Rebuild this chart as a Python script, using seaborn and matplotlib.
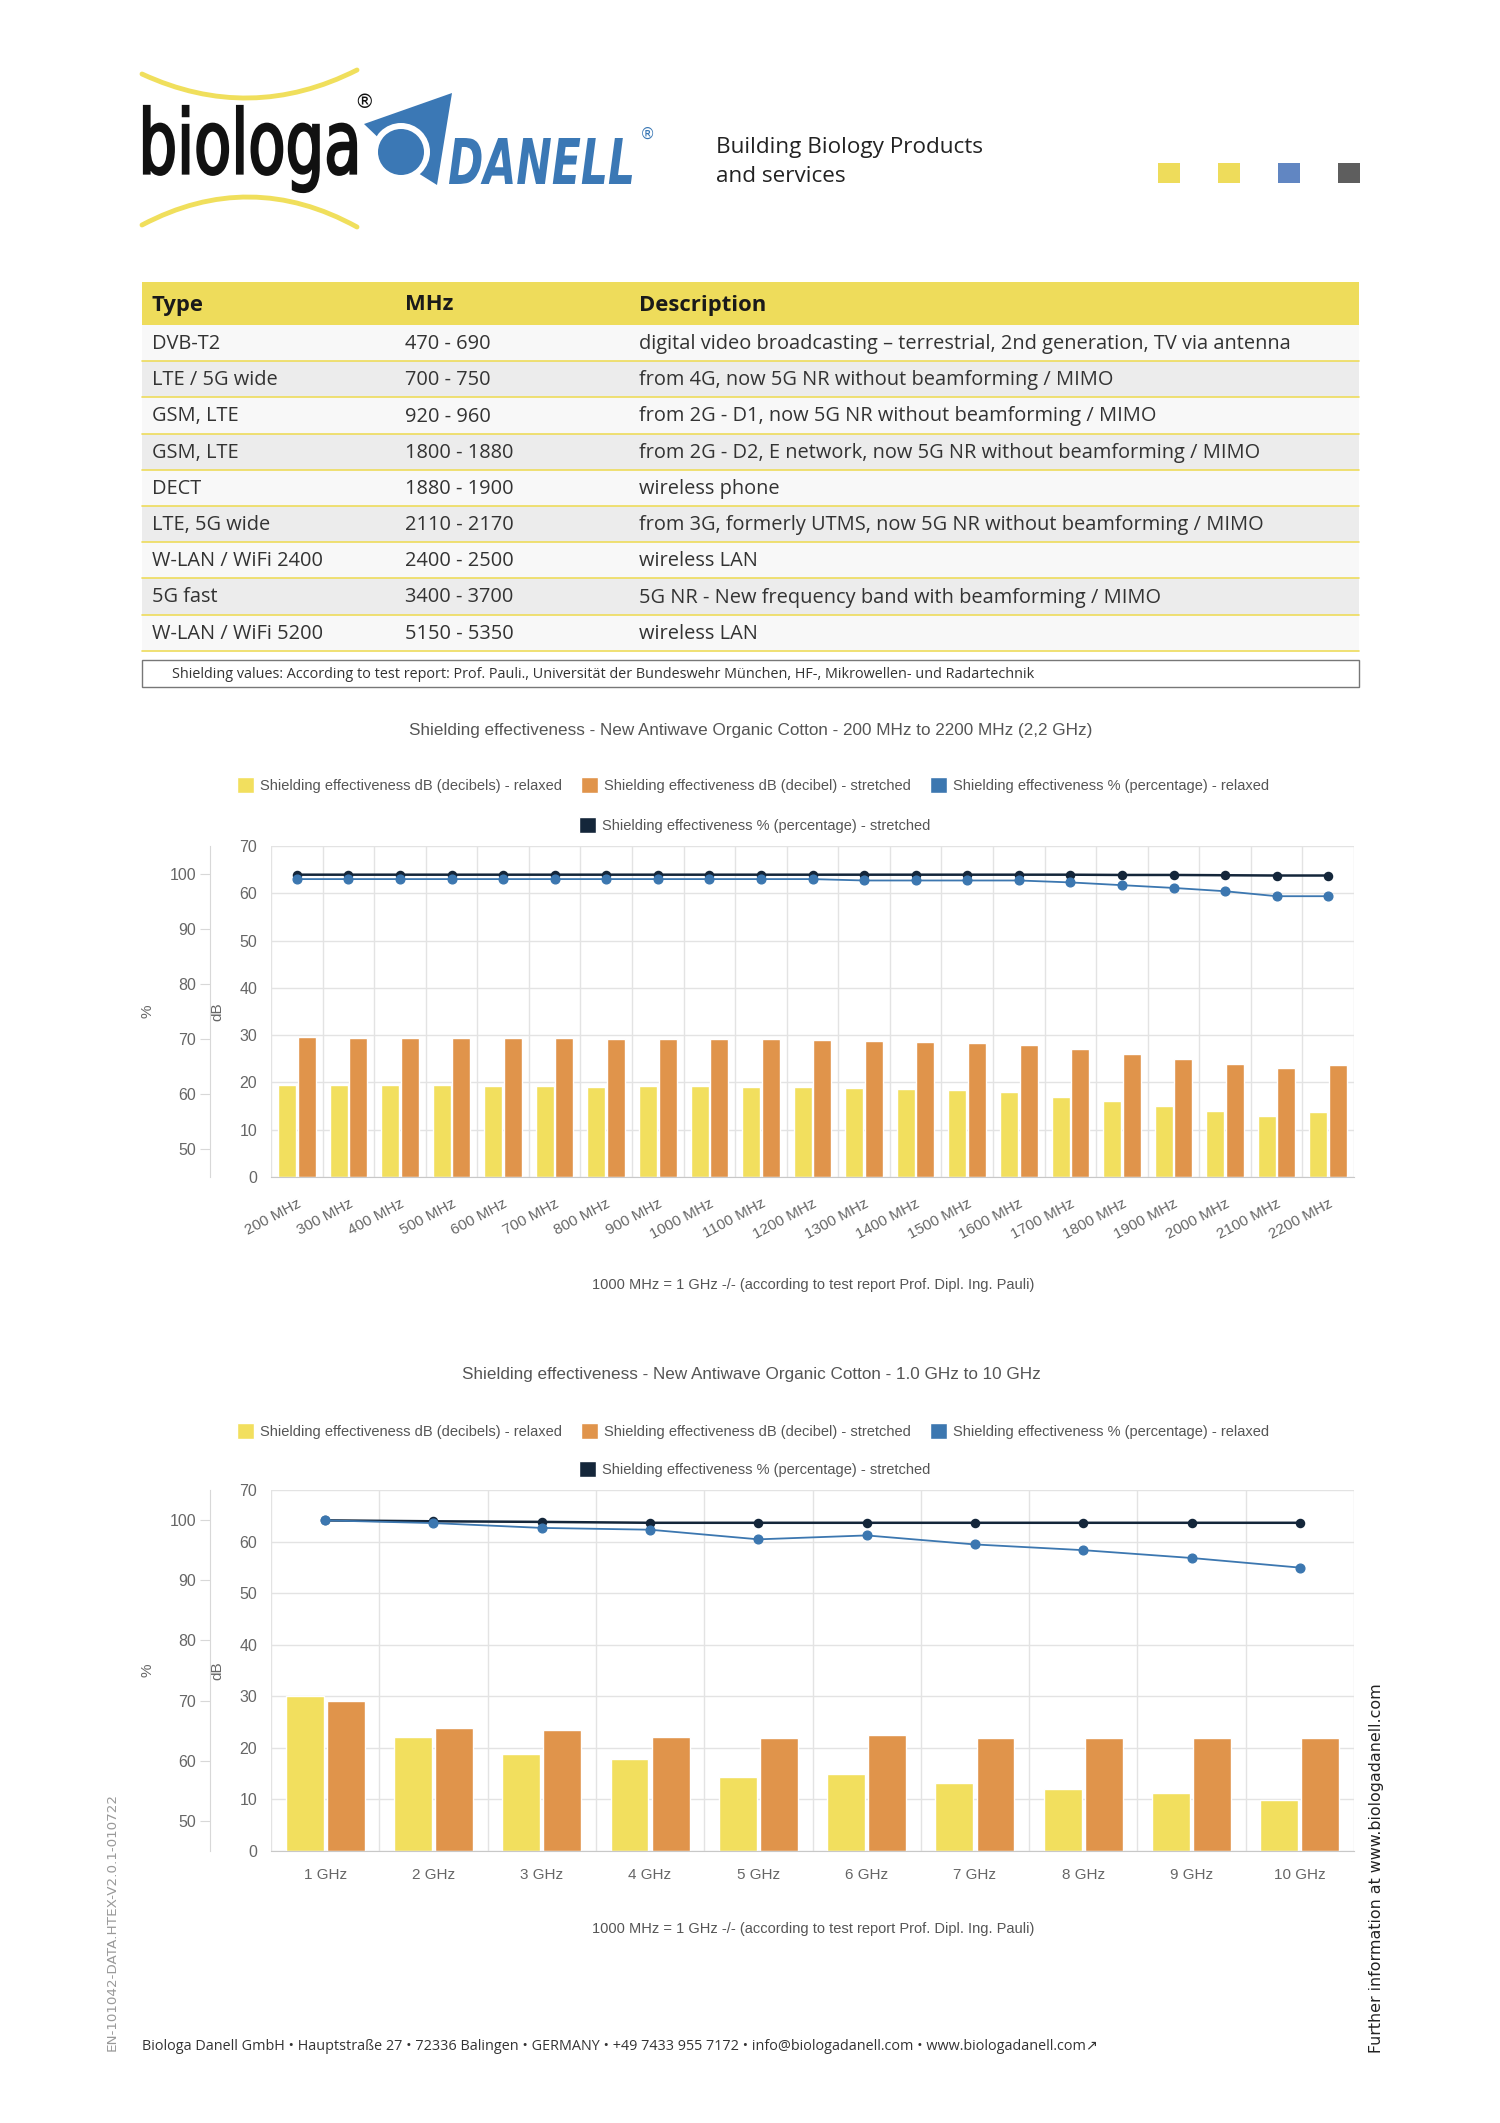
import numpy as np
import pandas as pd
import matplotlib
matplotlib.use('Agg')
import matplotlib.pyplot as plt
import seaborn as sns
from matplotlib.patches import Rectangle, Polygon, Circle, PathPatch, Patch
from matplotlib.path import Path
from matplotlib.textpath import TextPath
from matplotlib.font_manager import FontProperties
from matplotlib.transforms import Affine2D

# ---- table data ----
table_types = ['DVB-T2', 'LTE / 5G wide', 'GSM, LTE', 'GSM, LTE', 'DECT', 'LTE, 5G wide',
               'W-LAN / WiFi 2400', '5G fast', 'W-LAN / WiFi 5200']
table_mhz = ['470 - 690', '700 - 750', '920 - 960', '1800 - 1880', '1880 - 1900',
             '2110 - 2170', '2400 - 2500', '3400 - 3700', '5150 - 5350']
table_desc = ['digital video broadcasting \u2013 terrestrial, 2nd generation, TV via antenna',
              'from 4G, now 5G NR without beamforming / MIMO',
              'from 2G - D1, now 5G NR without beamforming / MIMO',
              'from 2G - D2, E network, now 5G NR without beamforming / MIMO',
              'wireless phone',
              'from 3G, formerly UTMS, now 5G NR without beamforming / MIMO',
              'wireless LAN',
              '5G NR - New frequency band with beamforming / MIMO',
              'wireless LAN']

# ---- chart 1: 200 MHz - 2200 MHz ----
freq_1 = ['200 MHz', '300 MHz', '400 MHz', '500 MHz', '600 MHz', '700 MHz', '800 MHz',
          '900 MHz', '1000 MHz', '1100 MHz', '1200 MHz', '1300 MHz', '1400 MHz', '1500 MHz',
          '1600 MHz', '1700 MHz', '1800 MHz', '1900 MHz', '2000 MHz', '2100 MHz', '2200 MHz']
db_relaxed_1 = [19.5, 19.4, 19.4, 19.4, 19.3, 19.2, 19.1, 19.2, 19.2, 19.1, 19.1,
                18.9, 18.6, 18.4, 18.0, 17.0, 16.0, 15.0, 13.9, 12.9, 13.7]
db_stretched_1 = [29.6, 29.4, 29.4, 29.4, 29.3, 29.3, 29.1, 29.2, 29.1, 29.1, 29.0,
                  28.8, 28.6, 28.4, 27.9, 27.0, 26.0, 25.0, 24.0, 23.1, 23.7]
pct_relaxed_1 = [99.0, 99.0, 99.0, 99.0, 99.0, 99.0, 99.0, 99.0, 99.0, 99.0, 99.0,
                 98.75, 98.75, 98.75, 98.75, 98.4, 97.9, 97.4, 96.8, 95.9, 95.9]
pct_stretched_1 = [99.8, 99.8, 99.8, 99.8, 99.8, 99.8, 99.8, 99.8, 99.8, 99.8, 99.8,
                   99.8, 99.8, 99.8, 99.8, 99.8, 99.75, 99.75, 99.7, 99.65, 99.65]

# ---- chart 2: 1 GHz - 10 GHz ----
freq_2 = ['1 GHz', '2 GHz', '3 GHz', '4 GHz', '5 GHz', '6 GHz', '7 GHz', '8 GHz', '9 GHz', '10 GHz']
db_relaxed_2 = [30.0, 22.2, 18.8, 17.8, 14.4, 15.0, 13.2, 12.1, 11.3, 9.9]
db_stretched_2 = [29.1, 23.9, 23.5, 22.2, 22.0, 22.4, 22.0, 22.0, 22.0, 22.0]
pct_relaxed_2 = [99.95, 99.5, 98.7, 98.4, 96.8, 97.45, 95.95, 95.0, 93.7, 92.1]
pct_stretched_2 = [99.95, 99.8, 99.7, 99.55, 99.55, 99.55, 99.55, 99.55, 99.55, 99.55]

series_labels = ['Shielding effectiveness dB (decibels) - relaxed',
                 'Shielding effectiveness dB (decibel) - stretched',
                 'Shielding effectiveness % (percentage) - relaxed',
                 'Shielding effectiveness % (percentage) - stretched']

YELLOW = '#F2DF5E'
ORANGE = '#E0944B'
BLUE = '#3C77B0'
NAVY = '#14263A'
GRID = '#e3e3e3'
TXT = '#555555'

sns.set_style('white')
plt.rcParams['font.family'] = ['Liberation Sans', 'DejaVu Sans']

W, H = 1500, 2123
fig = plt.figure(figsize=(15, 21.23), dpi=100)
bg = fig.add_axes([0, 0, 1, 1])
bg.set_xlim(0, W)
bg.set_ylim(H, 0)
bg.axis('off')


def fit_text(s, x0, y0, x1, y1, prop, color, lw=0):
    tp = TextPath((0, 0), s, size=1, prop=prop)
    bb = tp.get_extents()
    sx = (x1 - x0) / bb.width
    sy = (y1 - y0) / bb.height
    tr = Affine2D().translate(-bb.x0, -bb.y0).scale(sx, -sy).translate(x0, y1)
    bg.add_patch(PathPatch(tr.transform_path(tp), fc=color, ec=color if lw else 'none', lw=lw))


# ---- logo ----
arc_col = '#F0DF5C'
for pts in ([(142, 74), (250, 124), (357, 70)], [(142, 225), (250, 168), (357, 227)]):
    bg.add_patch(PathPatch(Path(pts, [Path.MOVETO, Path.CURVE3, Path.CURVE3]),
                           fc='none', ec=arc_col, lw=3.5, capstyle='round'))
fit_text('biologa', 144, 106, 356, 192, FontProperties(family='DejaVu Sans'), '#111111', lw=1.6)
bg.text(364, 102, '\u00ae', fontsize=14, ha='center', va='center', color='#111111',
        family='DejaVu Sans')
DBLUE = '#3B78B5'
bg.add_patch(Polygon([(364, 124), (452, 93), (437, 185), (410, 168)], closed=True, fc=DBLUE, ec='none'))
bg.add_patch(Circle((401, 152), 29, fc='white', ec='none'))
bg.add_patch(Circle((401, 152), 23, fc=DBLUE, ec='none'))
fit_text('DANELL', 449, 138, 632, 184,
         FontProperties(family='DejaVu Sans', weight='bold', style='italic'), DBLUE)
bg.text(648, 134, '\u00ae', fontsize=11, ha='center', va='center', color=DBLUE, family='DejaVu Sans')

bg.text(716, 148, 'Building Biology Products', fontsize=16.2, va='center', color='#222222',
        family='Open Sans')
bg.text(716, 176, 'and services', fontsize=16.2, va='center', color='#222222', family='Open Sans')
for cx, c in zip([1169, 1229, 1289, 1349], ['#EEDC5B', '#EEDC5B', '#6186C2', '#5E5E5E']):
    bg.add_patch(Rectangle((cx - 11, 163), 22, 20, fc=c, ec='none'))

# ---- table ----
tx0, tx1 = 142, 1359
bg.add_patch(Rectangle((tx0, 282), tx1 - tx0, 43, fc='#EEDC5B', ec='none'))
for x, h in zip([152, 405, 639], ['Type', 'MHz', 'Description']):
    bg.text(x, 305, h, fontsize=15.8, fontweight='bold', va='center', color='#1a1a1a',
            family='Open Sans')
row_h = 36.2
for i, (t, m, d) in enumerate(zip(table_types, table_mhz, table_desc)):
    y = 325 + i * row_h
    bg.add_patch(Rectangle((tx0, y), tx1 - tx0, row_h, fc='#F8F8F8' if i % 2 == 0 else '#ECECEC',
                           ec='none'))
    bg.plot([tx0, tx1], [y + row_h, y + row_h], color='#EEDC5B', lw=1.2)
    for x, s in zip([152, 405, 639], [t, m, d]):
        bg.text(x, y + row_h / 2 + 1, s, fontsize=14.4, va='center', color='#333333',
                family='Open Sans')
bg.add_patch(Rectangle((tx0, 660), tx1 - tx0, 27, fc='white', ec='#777777', lw=1))
bg.text(172, 674, 'Shielding values: According to test report: Prof. Pauli., Universit\u00e4t der '
        'Bundeswehr M\u00fcnchen, HF-, Mikrowellen- und Radartechnik',
        fontsize=10.4, va='center', color='#333333', family='Open Sans')


def draw_chart(top, bottom, leg_y, freqs, db_rel, db_str, pct_rel, pct_str, rotate):
    n = len(freqs)
    ax = fig.add_axes([271 / W, 1 - bottom / H, (1354 - 271) / W, (bottom - top) / H])
    ax.patch.set_alpha(0)
    db = pd.DataFrame({'freq': freqs * 2, 'dB': db_rel + db_str,
                       'series': [series_labels[0]] * n + [series_labels[1]] * n})
    sns.barplot(data=db, x='freq', y='dB', hue='series', order=freqs,
                hue_order=series_labels[:2], palette=[YELLOW, ORANGE], saturation=1,
                width=0.76, gap=0.08, errorbar=None, legend=False, ax=ax)
    ax2 = ax.twinx()
    sns.pointplot(x=freqs, y=pct_str, order=freqs, color=NAVY, markers='o', markersize=5.5,
                  linewidth=1.8, errorbar=None, ax=ax2)
    sns.pointplot(x=freqs, y=pct_rel, order=freqs, color=BLUE, markers='o', markersize=6.3,
                  linewidth=1.3, errorbar=None, ax=ax2)

    ax.set_xlim(-0.5, n - 0.5)
    ax.set_ylim(0, 70)
    ax.set_yticks(range(0, 71, 10))
    ax.set_xticks(np.arange(-0.5, n, 1), minor=True)
    ax.grid(True, which='minor', axis='x', color=GRID, lw=1)
    ax.grid(True, which='major', axis='y', color=GRID, lw=1)
    ax.grid(False, which='major', axis='x')
    ax.set_axisbelow(True)
    ax.tick_params(axis='x', which='major', length=0, labelsize=11, labelcolor='#666666',
                   pad=14 if rotate else 12)
    ax.tick_params(axis='x', which='minor', length=9, color='#cccccc', width=1)
    ax.tick_params(axis='y', length=0, pad=10, labelsize=11.5, labelcolor='#666666')
    for s in ['top', 'right', 'left']:
        ax.spines[s].set_visible(False)
    ax.spines['bottom'].set_color('#c8c8c8')
    ax.set_xlabel('')
    ax.set_ylabel('dB', fontsize=11, color='#666666')
    ax.yaxis.set_label_coords(-0.043, 0.5)
    if rotate:
        for lbl in ax.get_xticklabels():
            lbl.set_rotation(28)
            lbl.set_ha('right')
            lbl.set_rotation_mode('anchor')

    ax2.set_ylim(45, 105)
    ax2.set_yticks([50, 60, 70, 80, 90, 100])
    for s in ['top', 'right', 'bottom']:
        ax2.spines[s].set_visible(False)
    ax2.spines['left'].set_visible(True)
    ax2.spines['left'].set_position(('outward', 44))
    ax2.spines['left'].set_color('#d8d8d8')
    ax2.yaxis.set_ticks_position('left')
    ax2.yaxis.set_label_position('left')
    ax2.tick_params(axis='y', length=7, color='#d8d8d8', labelsize=11.5, labelcolor='#666666', pad=3)
    ax2.set_ylabel('%', fontsize=11, color='#666666')
    ax2.yaxis.set_label_coords(-0.1076, 0.5)

    handles = [Patch(facecolor=c) for c in [YELLOW, ORANGE, BLUE, NAVY]]
    kw = dict(loc='center', frameon=False, fontsize=10.5, handlelength=1.15, handleheight=1.3,
              handletextpad=0.4, columnspacing=1.35, labelcolor=TXT, borderpad=0)
    fig.legend(handles[:3], series_labels[:3], bbox_to_anchor=(0.502, 1 - leg_y[0] / H), ncol=3, **kw)
    fig.legend(handles[3:], series_labels[3:], bbox_to_anchor=(0.503, 1 - leg_y[1] / H), ncol=1, **kw)
    return ax


caption = '1000 MHz = 1 GHz -/- (according to test report Prof. Dipl. Ing. Pauli)'

draw_chart(846, 1177, (785, 825), freq_1, db_relaxed_1, db_stretched_1,
           pct_relaxed_1, pct_stretched_1, True)
bg.text(751, 730, 'Shielding effectiveness - New Antiwave Organic Cotton - 200 MHz to 2200 MHz (2,2 GHz)',
        ha='center', va='center', fontsize=12.3, color=TXT)
bg.text(813, 1285, caption, ha='center', va='center', fontsize=10.5, color=TXT)

draw_chart(1490, 1851, (1431, 1469), freq_2, db_relaxed_2, db_stretched_2,
           pct_relaxed_2, pct_stretched_2, False)
bg.text(751, 1374, 'Shielding effectiveness - New Antiwave Organic Cotton - 1.0 GHz to 10 GHz',
        ha='center', va='center', fontsize=12.3, color=TXT)
bg.text(813, 1929, caption, ha='center', va='center', fontsize=10.5, color=TXT)

# ---- footer ----
bg.text(142, 2047, 'Biologa Danell GmbH \u2022 Hauptstra\u00dfe 27 \u2022 72336 Balingen \u2022 GERMANY \u2022 '
        '+49 7433 955 7172 \u2022 info@biologadanell.com \u2022 www.biologadanell.com\u2197',
        fontsize=10.4, va='center', color='#333333', family=['Open Sans', 'DejaVu Sans'])
bg.text(112, 1922, 'EN-101042-DATA.HTEX-V2.0.1-010722', rotation=90, ha='center', va='center',
        fontsize=9.7, color='#999999', family='DejaVu Sans')
bg.text(1377, 1868, 'Further information at www.biologadanell.com', rotation=90, ha='center',
        va='center', fontsize=11.4, color='#222222', family='DejaVu Sans')

fig.savefig('out.png', dpi=100)
